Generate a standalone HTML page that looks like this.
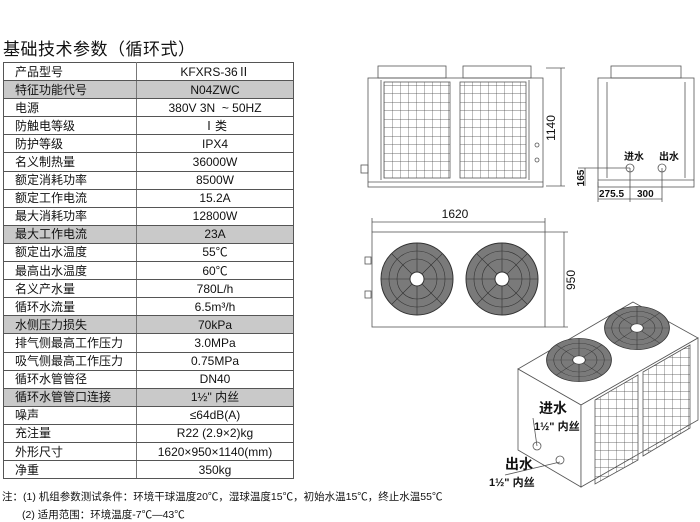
<!DOCTYPE html>
<html><head><meta charset="utf-8"><style>
body{margin:0;width:700px;height:522px;background:#fff;position:relative;overflow:hidden;font-family:"Liberation Sans","Noto Sans CJK SC",sans-serif;color:#111}
.t{position:absolute;left:3px;top:35px;font-size:17px;letter-spacing:0.5px}
table{position:absolute;left:3px;top:62px;border-collapse:collapse;width:291px;font-size:12px;table-layout:fixed}
td{height:17.1px;padding:0;border:1px solid #555;line-height:16px;white-space:nowrap;overflow:hidden}
td:first-child{padding-left:11px;border-right:1.5px solid #777}
td:last-child{text-align:center}
tr.s td{background:#c9c9c9}
.n{position:absolute;font-size:10.5px;left:2px}
svg{position:absolute;left:0;top:0}
</style></head><body>
<div class="t">基础技术参数（循环式）</div>
<table>
<colgroup><col style="width:133px"><col></colgroup>
<tr><td>产品型号</td><td>KFXRS-36Ⅱ</td></tr>
<tr class="s"><td>特征功能代号</td><td>N04ZWC</td></tr>
<tr><td>电源</td><td>380V 3N &nbsp;~ 50HZ</td></tr>
<tr><td>防触电等级</td><td>Ⅰ类</td></tr>
<tr><td>防护等级</td><td>IPX4</td></tr>
<tr><td>名义制热量</td><td>36000W</td></tr>
<tr><td>额定消耗功率</td><td>8500W</td></tr>
<tr><td>额定工作电流</td><td>15.2A</td></tr>
<tr><td>最大消耗功率</td><td>12800W</td></tr>
<tr class="s"><td>最大工作电流</td><td>23A</td></tr>
<tr><td>额定出水温度</td><td>55℃</td></tr>
<tr><td>最高出水温度</td><td>60℃</td></tr>
<tr><td>名义产水量</td><td>780L/h</td></tr>
<tr><td>循环水流量</td><td>6.5m³/h</td></tr>
<tr class="s"><td>水侧压力损失</td><td>70kPa</td></tr>
<tr><td>排气侧最高工作压力</td><td>3.0MPa</td></tr>
<tr><td>吸气侧最高工作压力</td><td>0.75MPa</td></tr>
<tr><td>循环水管管径</td><td>DN40</td></tr>
<tr class="s"><td>循环水管管口连接</td><td>1½" 内丝</td></tr>
<tr><td>噪声</td><td>≤64dB(A)</td></tr>
<tr><td>充注量</td><td>R22 (2.9×2)kg</td></tr>
<tr><td>外形尺寸</td><td>1620×950×1140(mm)</td></tr>
<tr><td>净重</td><td>350kg</td></tr>
</table>
<div class="n" style="top:489px">注：(1) 机组参数测试条件：环境干球温度20℃，湿球温度15℃，初始水温15℃，终止水温55℃</div>
<div class="n" style="top:507px;left:22px">(2) 适用范围：环境温度-7℃—43℃</div>
<svg width="700" height="522" viewBox="0 0 700 522">
<defs>
<pattern id="g" width="8" height="8.5" patternUnits="userSpaceOnUse"><path d="M0 0H8M0 0V8.5" stroke="#444" stroke-width="0.7" fill="none"/></pattern>
<g id="fan"><circle r="36" fill="#7a7a7a" stroke="#333"/><g stroke="#333" stroke-width="0.6" fill="none"><circle r="28"/><circle r="20"/><path d="M-36 0H36M0 -36V36M-25 -25L25 25M-25 25L25 -25"/></g><circle r="7" fill="#fff" stroke="#333"/></g>
</defs>
<g stroke="#555" fill="none" stroke-width="0.8">
<rect x="368" y="78" width="175" height="109"/>
<line x1="368" y1="182" x2="543" y2="182"/>
<rect x="378" y="66" width="68" height="12"/><rect x="463" y="66" width="68" height="12"/>
<rect x="384" y="82" width="66" height="96" fill="url(#g)"/><rect x="460" y="82" width="66" height="96" fill="url(#g)"/>
<line x1="381" y1="80" x2="381" y2="180"/><line x1="529" y1="80" x2="529" y2="180"/>
<circle cx="537" cy="145" r="2"/><circle cx="537" cy="160" r="2"/>
<rect x="361" y="165" width="7" height="8"/>
<line x1="561" y1="68" x2="561" y2="186"/><line x1="546" y1="68" x2="565" y2="68"/><line x1="546" y1="186" x2="565" y2="186"/>
<rect x="598" y="78" width="96" height="109"/>
<line x1="598" y1="180" x2="694" y2="180"/>
<rect x="611" y="66" width="70" height="12"/>
<line x1="607" y1="82" x2="607" y2="178"/><line x1="685" y1="82" x2="685" y2="178"/>
<circle cx="630" cy="168" r="4"/><circle cx="662" cy="168" r="4"/>
<line x1="578" y1="168" x2="630" y2="168"/><line x1="630" y1="168" x2="630" y2="202"/><line x1="662" y1="168" x2="662" y2="202"/>
<line x1="598" y1="182" x2="598" y2="202"/><line x1="598" y1="199" x2="662" y2="199"/>
<line x1="585" y1="168" x2="585" y2="186"/>
<rect x="372" y="232" width="173" height="95"/>
<line x1="372" y1="222" x2="545" y2="222"/><line x1="372" y1="218" x2="372" y2="232"/><line x1="545" y1="218" x2="545" y2="232"/>
<line x1="564" y1="232" x2="564" y2="327"/><line x1="545" y1="232" x2="568" y2="232"/><line x1="545" y1="327" x2="568" y2="327"/>
<rect x="365" y="257" width="6" height="7"/><rect x="365" y="291" width="6" height="7"/>
<polygon points="518,369 633,302 698,338 581,405" fill="#fff"/>
<polygon points="518,369 581,405 581,487 518,450" fill="#fff"/>
<polygon points="581,405 698,338 698,420 581,487" fill="#fff"/>
<polygon points="595,400 638,375 638,460 595,484" fill="url(#g)"/>
<polygon points="643,372 690,345 690,428 643,456" fill="url(#g)"/>
<circle cx="537" cy="446" r="4"/><circle cx="560" cy="460" r="4"/>
<line x1="533" y1="418" x2="537" y2="446"/><line x1="505" y1="475" x2="560" y2="462"/>
</g>
<g transform="translate(579,360) scale(0.9,0.6)"><use href="#fan"/></g>
<g transform="translate(637,328) scale(0.9,0.6)"><use href="#fan"/></g>
<use href="#fan" x="417" y="279"/><use href="#fan" x="502" y="279"/>
<g font-family="Liberation Sans,Noto Sans CJK SC,sans-serif" fill="#111">
<text x="555" y="128" font-size="12" transform="rotate(-90 555 128)" text-anchor="middle">1140</text>
<text x="455" y="218" font-size="12" text-anchor="middle">1620</text>
<text x="575" y="280" font-size="12" transform="rotate(-90 575 280)" text-anchor="middle">950</text>
<text x="584" y="178" font-size="10" font-weight="bold" transform="rotate(-90 584 178)" text-anchor="middle">165</text>
<text x="599" y="197" font-size="10" font-weight="bold">275.5</text>
<text x="637" y="197" font-size="10" font-weight="bold">300</text>
<text x="624" y="160" font-size="10" font-weight="bold">进水</text>
<text x="659" y="160" font-size="10" font-weight="bold">出水</text>
<text x="539" y="413" font-size="14" font-weight="bold">进水</text>
<text x="534" y="430" font-size="11" font-weight="bold">1½" 内丝</text>
<text x="505" y="469" font-size="14" font-weight="bold">出水</text>
<text x="489" y="486" font-size="11" font-weight="bold">1½" 内丝</text>
</g>
</svg>
</body></html>
